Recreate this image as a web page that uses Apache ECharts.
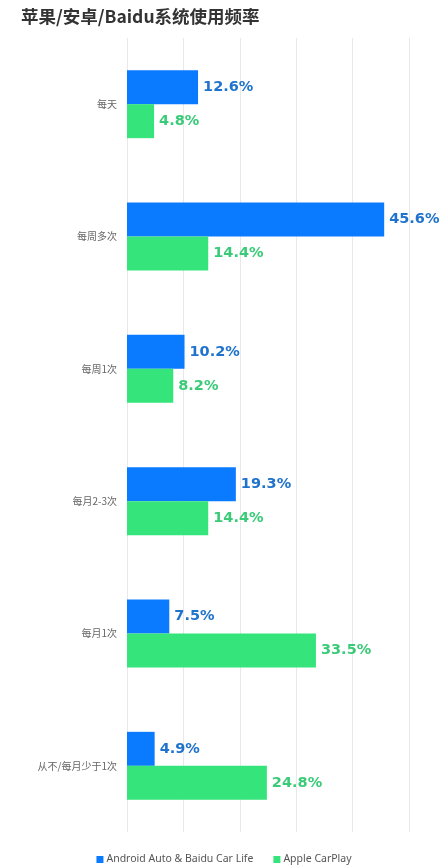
<!DOCTYPE html>
<html>
<head>
<meta charset="utf-8">
<script src="https://cdn.jsdelivr.net/npm/echarts@6/dist/echarts.min.js"></script>
<style>
  html, body { margin: 0; padding: 0; background: #fff; }
  #chart { width: 448px; height: 868px; }
</style>
</head>
<body>
<div id="chart"></div>
<script>
// 数据
const categories = ['每天', '每周多次', '每周1次', '每月2-3次', '每月1次', '从不/每月少于1次'];
const androidBaidu = [12.6, 45.6, 10.2, 19.3, 7.5, 4.9];
const carPlay = [4.8, 14.4, 8.2, 14.4, 33.5, 24.8];
const seriesNames = ['Android Auto & Baidu Car Life', 'Apple CarPlay'];

const chart = echarts.init(document.getElementById('chart'));

const labelOf = (color) => ({
  show: true,
  position: 'right',
  distance: 5,
  color: color,
  fontFamily: 'DejaVu Sans',
  fontWeight: 'bold',
  fontSize: 14.5,
  formatter: (p) => p.value.toFixed(1) + '%'
});

chart.setOption({
  backgroundColor: '#fff',
  animation: false,
  title: {
    text: '苹果/安卓/Baidu系统使用频率',
    left: 16,
    top: 3,
    textStyle: {
      fontFamily: 'Noto Sans CJK SC',
      fontSize: 17.5,
      fontWeight: 'bold',
      color: '#333'
    }
  },
  legend: {
    bottom: -2,
    left: 'center',
    itemWidth: 7,
    itemHeight: 7,
    itemGap: 20,
    icon: 'rect',
    textStyle: { fontFamily: 'Noto Sans', fontSize: 10.5, color: '#555', padding: [0, 0, 0, -2] },
    data: seriesNames
  },
  grid: { left: 127, right: 39, top: 38, bottom: 36, containLabel: false },
  xAxis: {
    type: 'value',
    min: 0,
    max: 50,
    interval: 10,
    axisLabel: { show: false },
    axisTick: { show: false },
    axisLine: { show: false },
    splitLine: { show: true, lineStyle: { color: '#e8e8e8', width: 1 } }
  },
  yAxis: {
    type: 'category',
    inverse: true,
    data: categories,
    axisTick: { show: false },
    axisLine: { show: false },
    axisLabel: {
      margin: 10,
      fontFamily: 'Noto Sans CJK SC',
      fontSize: 10,
      color: '#666'
    }
  },
  series: [
    {
      name: seriesNames[0],
      type: 'bar',
      data: androidBaidu,
      barWidth: 34,
      barGap: '0%',
      itemStyle: { color: '#0A7AFF' },
      label: labelOf('#1F73CC')
    },
    {
      name: seriesNames[1],
      type: 'bar',
      data: carPlay,
      barWidth: 34,
      barGap: '0%',
      itemStyle: { color: '#35E47A' },
      label: labelOf('#3ACB78')
    }
  ]
});
</script>
</body>
</html>
